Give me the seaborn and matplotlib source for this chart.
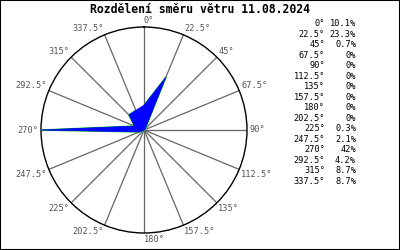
import numpy as np
import matplotlib
matplotlib.use("Agg")
import matplotlib.pyplot as plt
import seaborn as sns
from matplotlib.patches import Rectangle

title = "Rozdělení směru větru 11.08.2024"
angles_deg = [0, 22.5, 45, 67.5, 90, 112.5, 135, 157.5, 180, 202.5, 225, 247.5, 270, 292.5, 315, 337.5]
dir_labels = ["0°", "22.5°", "45°", "67.5°", "90°", "112.5°", "135°", "157.5°", "180°",
              "202.5°", "225°", "247.5°", "270°", "292.5°", "315°", "337.5°"]
percent = [10.1, 23.3, 0.7, 0, 0, 0, 0, 0, 0, 0, 0.3, 2.1, 42, 4.2, 8.7, 8.7]
pct_labels = ["10.1%", "23.3%", "0.7%", "0%", "0%", "0%", "0%", "0%", "0%", "0%",
              "0.3%", "2.1%", "42%", "4.2%", "8.7%", "8.7%"]

sns.set_style("white")
plt.rcParams['font.family'] = ['DejaVu Sans Mono', 'DejaVu Sans']

fig = plt.figure(figsize=(4, 2.5), dpi=100)
fig.patches.append(Rectangle((0, 0), 1, 1, transform=fig.transFigure, fill=False,
                             edgecolor='black', linewidth=1.5, zorder=10))

ax = fig.add_axes([0.1025, 0.068, 0.515, 0.824], projection='polar')
ax.set_theta_zero_location('N')
ax.set_theta_direction(-1)
ax.set_facecolor('white')

theta = np.deg2rad(angles_deg)
th_closed = np.append(theta, theta[0])
r_closed = np.append(percent, percent[0])

sns.lineplot(x=th_closed, y=r_closed, sort=False, ax=ax, color='#00dd00', linewidth=1.0, zorder=3)
ax.fill(th_closed, r_closed, facecolor='#0000ff', edgecolor='#0000ff', linewidth=0.5, zorder=4)

rmax = max(percent)
ax.set_ylim(0, rmax)
ax.set_yticks([])
ax.set_xticks(theta)
ax.set_xticklabels([])
ax.grid(True, axis='x', color='#666666', linewidth=0.9)
ax.grid(False, axis='y')
ax.spines['polar'].set_color('black')
ax.spines['polar'].set_linewidth(1.0)
ax.tick_params(axis='x', length=0)

for a, lab in zip(angles_deg, dir_labels):
    t = np.deg2rad(a)
    s, c = np.sin(t), np.cos(t)
    ha = 'right' if s < -1e-6 else 'left'
    if abs(c) < 1e-6:
        va = 'center'
    elif c > 0:
        va = 'bottom'
    else:
        va = 'top'
    off = 1.6
    ax.annotate(lab, xy=(t, rmax), xytext=(off * s, off * c), textcoords='offset points',
                ha=ha, va=va, fontsize=6.2, color='#555555', annotation_clip=False)

fig.text(0.5, 0.962, title, ha='center', va='center', fontsize=8.3,
         fontweight='bold', color='black')

y0 = 1 - 24 / 250
dy = 10.47 / 250
for i, (d, p) in enumerate(zip(dir_labels, pct_labels)):
    y = y0 - i * dy
    fig.text(325 / 400, y, d, ha='right', va='center', fontsize=6.2, color='black')
    fig.text(356 / 400, y, p, ha='right', va='center', fontsize=6.2, color='black')

fig.savefig("out.png", dpi=100, facecolor='white')
